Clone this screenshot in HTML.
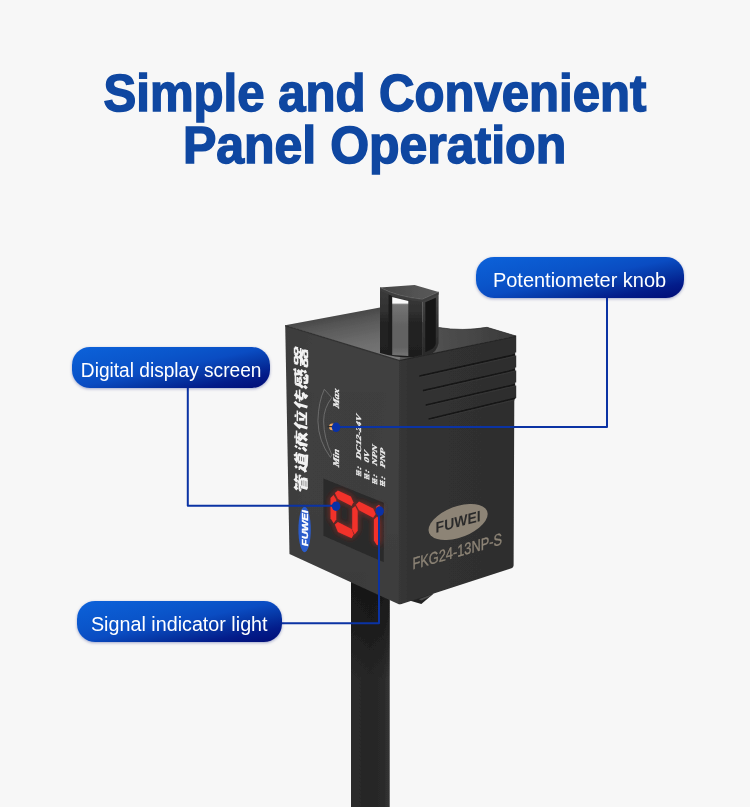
<!DOCTYPE html>
<html><head><meta charset="utf-8">
<style>
html,body{margin:0;padding:0;}
body{width:750px;height:807px;background:#f7f7f7;position:relative;overflow:hidden;font-family:"Liberation Sans",sans-serif;}
.title{position:absolute;left:0;width:750px;text-align:center;color:#0f47a1;font-weight:bold;font-size:51px;line-height:51px;white-space:nowrap;-webkit-text-stroke:1.5px #0f47a1;}
.t1{top:68px;}
.t2{top:120px;}
.title span{display:inline-block;transform-origin:50% 50%;}
.pill{position:absolute;border-radius:18px;color:#fff;font-size:19.5px;box-sizing:border-box;text-align:center;white-space:nowrap;
 background:linear-gradient(to bottom right,#0c62da 0%,#0a55ca 35%,#0a4cc2 50%,#0636a4 66%,#031c8a 82%,#010c75 100%);box-shadow:0 1px 3px rgba(0,20,120,.35);}
.pill span{display:inline-block;transform-origin:50% 50%;}
#p1{left:476px;top:257px;width:208px;height:41px;line-height:47px;}
#p2{left:71.7px;top:347.2px;width:198px;height:41px;line-height:47px;}
#p3{left:76.5px;top:601px;width:205px;height:41px;line-height:47px;}
svg{position:absolute;left:0;top:0;}
</style></head><body>
<div class="title t1"><span id="ts1" style="transform:scaleX(0.9625)">Simple and Convenient</span></div>
<div class="title t2"><span id="ts2" style="transform:scaleX(0.98)">Panel Operation</span></div>
<svg id="dev" width="750" height="807" viewBox="0 0 750 807">
<defs>
<filter id="soft" x="-5%" y="-5%" width="110%" height="110%"><feGaussianBlur stdDeviation="0.45"/></filter>
<filter id="glow" x="-40%" y="-40%" width="180%" height="180%"><feGaussianBlur stdDeviation="3"/></filter>
<filter id="tblur" x="-10%" y="-10%" width="120%" height="120%"><feGaussianBlur stdDeviation="0.35"/></filter>
<linearGradient id="gCable" x1="0" x2="1" y1="0" y2="0">
 <stop offset="0" stop-color="#2b2b2b"/><stop offset="0.5" stop-color="#262626"/><stop offset="0.85" stop-color="#2a2a2a"/><stop offset="1" stop-color="#363636"/>
</linearGradient>
<linearGradient id="gCableSh" x1="0" x2="0" y1="0" y2="1"><stop offset="0" stop-color="#101010" stop-opacity="0.75"/><stop offset="0.45" stop-color="#101010" stop-opacity="0.55"/><stop offset="1" stop-color="#101010" stop-opacity="0"/></linearGradient>
<linearGradient id="gLeft" x1="0" x2="1" y1="0" y2="0.25">
 <stop offset="0" stop-color="#3b3b3b"/><stop offset="0.3" stop-color="#404040"/><stop offset="0.8" stop-color="#3f3f3f"/><stop offset="1" stop-color="#414141"/>
</linearGradient>
<linearGradient id="gLeftV" x1="0" x2="0" y1="0" y2="1">
 <stop offset="0" stop-color="#000" stop-opacity="0"/><stop offset="0.6" stop-color="#000" stop-opacity="0.02"/><stop offset="1" stop-color="#000" stop-opacity="0.07"/>
</linearGradient>
<linearGradient id="gRight" x1="0" x2="1" y1="0" y2="0">
 <stop offset="0" stop-color="#373737"/><stop offset="0.12" stop-color="#313131"/><stop offset="1" stop-color="#2e2e2e"/>
</linearGradient>
<linearGradient id="gTop" x1="285" y1="325" x2="295.2" y2="379" gradientUnits="userSpaceOnUse">
 <stop offset="0" stop-color="#484848"/><stop offset="0.2" stop-color="#585858"/><stop offset="0.55" stop-color="#6c6c6c"/><stop offset="0.85" stop-color="#767676"/><stop offset="1" stop-color="#7a7a7a"/>
</linearGradient>
<linearGradient id="gTopR" x1="420" y1="345" x2="516" y2="334" gradientUnits="userSpaceOnUse">
 <stop offset="0" stop-color="#5a5a5a"/><stop offset="0.25" stop-color="#4e4e4e"/><stop offset="0.6" stop-color="#454545"/><stop offset="1" stop-color="#393939"/>
</linearGradient>
</defs>
<g filter="url(#soft)">
<!-- cable -->
<rect x="351" y="570" width="38.7" height="240" fill="url(#gCable)"/>
<rect x="351" y="570" width="38.7" height="110" fill="url(#gCableSh)"/>
<!-- bottom plug -->
<polygon points="409.5,600.4 421.3,603.9 433.8,593.4 420,594" fill="#242424"/>
<polygon points="419,599.2 432.5,594.0 429.5,596.8 421.5,600.6" fill="#4c4c4c"/>
<!-- top face -->
<path d="M285.2,325.3 L380,307.5 L438.6,327.5 Q463,331.5 487,327.3 L516,336 L399.3,360.3 Z" fill="url(#gTop)"/>
<path d="M399.3,360.3 L405,338 L438.6,327.5 Q463,331.5 487,327.3 L516,336 Z" fill="url(#gTopR)"/>
<!-- tab -->
<g id="tab">
<defs>
<linearGradient id="gTabL" x1="0" x2="0" y1="287" y2="357" gradientUnits="userSpaceOnUse">
 <stop offset="0" stop-color="#3c3c3c"/><stop offset="0.35" stop-color="#303030"/><stop offset="0.5" stop-color="#242424"/><stop offset="1" stop-color="#1e1e1e"/>
</linearGradient>
<linearGradient id="gTabW" x1="0" x2="0" y1="297" y2="356" gradientUnits="userSpaceOnUse">
 <stop offset="0" stop-color="#fafafa"/><stop offset="0.1" stop-color="#fafafa"/><stop offset="0.13" stop-color="#747474"/><stop offset="0.5" stop-color="#626262"/><stop offset="0.85" stop-color="#626262"/><stop offset="1" stop-color="#747474"/>
</linearGradient>
<linearGradient id="gTabTop" x1="380" x2="438" y1="0" y2="0" gradientUnits="userSpaceOnUse">
 <stop offset="0" stop-color="#444"/><stop offset="0.5" stop-color="#505050"/><stop offset="1" stop-color="#5a5a5a"/>
</linearGradient>
<linearGradient id="gTabR" x1="0" x2="0" y1="292" y2="357" gradientUnits="userSpaceOnUse">
 <stop offset="0" stop-color="#484848"/><stop offset="0.5" stop-color="#333"/><stop offset="1" stop-color="#2a2a2a"/>
</linearGradient>
</defs>
<!-- front-left wall -->
<path d="M380,287.5 Q397,296.5 422.2,299.2 L422.2,357 Q400,359 380,353 Z" fill="url(#gTabL)"/>
<!-- window -->
<path d="M391.8,297 L408.3,301 L408.3,356 L391.8,355 Z" fill="url(#gTabW)"/>
<path d="M388.6,294 L392.2,296 L392.2,355 L388.6,354.5 Z" fill="#1b1b1b"/>
<!-- right wall -->
<path d="M422.2,299.2 L438.6,291.9 L438.6,343 Q437,352 429,355 L422.2,357 Z" fill="url(#gTabR)"/>
<path d="M425.3,302.2 L435.8,297.8 L435.8,344 Q434,349.5 425.3,352 Z" fill="#171717"/>
<!-- top -->
<path d="M380,287.5 L414.6,284.9 L438.6,291.9 L422.2,299.2 Q397,296.5 380,287.5 Z" fill="url(#gTabTop)"/>
<path d="M380,287.5 Q397,296.5 422.2,299.2 L438.6,291.9 L438.6,294.6 L422.2,302 Q397,299.5 380,290.5 Z" fill="#3e3e3e"/>
<path d="M380,287.5 Q397,296.5 422.2,299.2 L438.6,291.9" fill="none" stroke="#626262" stroke-width="0.7"/>
</g>
<!-- left face -->
<polygon points="285.2,325.3 399.8,360.3 399.4,604.6 289.5,554" fill="url(#gLeft)"/>
<polygon points="285.2,325.3 399.8,360.3 399.4,604.6 289.5,554" fill="url(#gLeftV)"/>
<!-- right face -->
<path d="M399,360 L516.2,335.5 L516.2,398 L514.3,399 L513.6,565.5 Q513.5,567.6 511.5,568.3 L401.5,603.9 Q399.2,604.6 398.6,603.8 Z" fill="url(#gRight)"/>
<!-- grooves -->
<g stroke="#141414" stroke-width="1.5" stroke-linecap="round" fill="none">
<path d="M420,376 L515.5,354.6"/>
<path d="M423.6,390.6 L515.5,369.6"/>
<path d="M426.4,404.9 L515.5,384.5"/>
<path d="M429.2,418.9 L514.5,398.5"/>
</g>
<g stroke="#3b3b3b" stroke-width="0.8" stroke-linecap="round" fill="none" opacity="0.8">
<path d="M420,377.4 L515.5,356"/>
<path d="M423.6,392 L515.5,371"/>
<path d="M426.4,406.3 L515.5,385.9"/>
<path d="M429.2,420.3 L514.5,399.9"/>
</g>
<!-- notches at right edge -->
<g fill="#f7f7f8">
<rect x="515.2" y="352.5" width="2" height="3"/>
<rect x="515.2" y="367.5" width="2" height="3"/>
<rect x="515.2" y="382.5" width="2" height="3"/>
</g>
<!-- front vertical edge highlight -->

<!-- top edge highlights -->
<path d="M285.2,325.6 L399.5,360.6" stroke="#333" stroke-width="1.2" fill="none"/>
<path d="M399.5,360.6 L516,336.4" stroke="#262626" stroke-width="1" fill="none" opacity="0.9"/>
<path d="M438.6,327.5 Q463,331.5 487,327.3 L516,336" stroke="#2e2e2e" stroke-width="0.8" fill="none" opacity="0.8"/>
<!--GFX-START-->
<g id="cn" filter="url(#tblur)">
<g transform="matrix(0.0000,-0.1950,0.1400,0.0420,294.00,490.40)" fill="none" stroke="#f2f2f2" stroke-linecap="butt" stroke-linejoin="round">
<path d="M18,14 L42,14 M58,14 L90,14 M12,38 L88,38 M30,48 L70,48 M30,64 L72,64 M30,78 L74,78 M30,93 L74,93 M88,38 L84,50" stroke-width="1.55" vector-effect="non-scaling-stroke"/>
<path d="M22,4 L10,24 M30,14 L34,26 M62,4 L50,24 M72,14 L76,26 M50,26 L50,36 M12,38 L12,52 M30,48 L30,96 M70,48 L70,64 M74,64 L74,96" stroke-width="2.9" vector-effect="non-scaling-stroke"/>
</g>
<g transform="matrix(0.0000,-0.1950,0.1400,0.0420,294.00,469.45)" fill="none" stroke="#f2f2f2" stroke-linecap="butt" stroke-linejoin="round">
<path d="M38,18 L94,18 M46,30 L84,30 M46,46 L84,46 M46,62 L84,62 M46,78 L84,78 M6,38 L24,38" stroke-width="1.55" vector-effect="non-scaling-stroke"/>
<path d="M50,4 L56,14 M80,4 L72,14 M64,18 L58,30 M46,30 L46,80 M84,30 L84,80 M12,8 L22,22 M24,38 L14,72 M4,84 L18,74 L40,88 L96,92" stroke-width="2.9" vector-effect="non-scaling-stroke"/>
</g>
<g transform="matrix(0.0000,-0.1950,0.1400,0.0420,294.00,448.50)" fill="none" stroke="#f2f2f2" stroke-linecap="butt" stroke-linejoin="round">
<path d="M28,18 L96,18 M62,36 L86,36" stroke-width="1.55" vector-effect="non-scaling-stroke"/>
<path d="M8,10 L18,20 M4,36 L14,44 M6,88 L20,62 M60,2 L62,12 M44,22 L28,52 M36,42 L36,96 M66,24 L52,52 M86,36 L60,92 M66,52 L74,60 M58,46 L96,94" stroke-width="2.9" vector-effect="non-scaling-stroke"/>
</g>
<g transform="matrix(0.0000,-0.1950,0.1400,0.0420,294.00,427.55)" fill="none" stroke="#f2f2f2" stroke-linecap="butt" stroke-linejoin="round">
<path d="M38,24 L92,24 M32,88 L98,88" stroke-width="1.55" vector-effect="non-scaling-stroke"/>
<path d="M26,4 L6,46 M18,30 L18,96 M62,4 L64,18 M50,36 L58,74 M84,34 L70,86" stroke-width="2.9" vector-effect="non-scaling-stroke"/>
</g>
<g transform="matrix(0.0000,-0.1950,0.1400,0.0420,294.00,406.60)" fill="none" stroke="#f2f2f2" stroke-linecap="butt" stroke-linejoin="round">
<path d="M42,18 L88,18 M34,40 L96,40 M50,62 L84,62" stroke-width="1.55" vector-effect="non-scaling-stroke"/>
<path d="M26,4 L6,46 M18,30 L18,96 M64,4 L50,62 M84,62 L64,84 M58,76 L80,94" stroke-width="2.9" vector-effect="non-scaling-stroke"/>
</g>
<g transform="matrix(0.0000,-0.1950,0.1400,0.0420,294.00,385.65)" fill="none" stroke="#f2f2f2" stroke-linecap="butt" stroke-linejoin="round">
<path d="M12,10 L92,10 M24,24 L50,24 M24,36 L48,36 M24,52 L48,52" stroke-width="1.55" vector-effect="non-scaling-stroke"/>
<path d="M12,10 L12,42 L4,64 M24,36 L24,52 M48,36 L48,52 M60,2 L70,40 L94,62 M86,26 L62,58 M78,2 L88,8 M14,72 L6,92 M30,68 L36,92 L70,94 L72,80 M50,68 L58,80 M82,70 L94,88" stroke-width="2.9" vector-effect="non-scaling-stroke"/>
</g>
<g transform="matrix(0.0000,-0.1950,0.1400,0.0420,294.00,364.70)" fill="none" stroke="#f2f2f2" stroke-linecap="butt" stroke-linejoin="round">
<path d="M12,4 L42,4 M12,26 L42,26 M58,4 L88,4 M58,26 L88,26 M12,72 L42,72 M12,96 L42,96 M58,72 L88,72 M58,96 L88,96 M4,48 L96,48" stroke-width="1.55" vector-effect="non-scaling-stroke"/>
<path d="M12,4 L12,28 M42,4 L42,28 M58,4 L58,28 M88,4 L88,28 M12,72 L12,98 M42,72 L42,98 M58,72 L58,98 M88,72 L88,98 M50,32 L44,52 L14,68 M52,50 L92,68 M68,34 L78,42" stroke-width="2.9" vector-effect="non-scaling-stroke"/>
</g>
</g>
<path d="M324.3,389.3 Q318.4,402 317.9,420.9 Q318.3,441 330.5,457.5 L331.8,454.7 Q323.8,438 323.6,420.9 Q323.8,408 331.8,397.7 Z" fill="none" stroke="#707070" stroke-width="0.9" stroke-linejoin="round"/>
<g filter="url(#tblur)">
<text transform="matrix(0,-0.975,0.820,0.271,338.80,408.80)" font-size="10.5" fill="#f0f0f0" style="font-family:'Liberation Serif',serif;font-weight:bold;font-style:italic" stroke="#f0f0f0" stroke-width="0.3">Max</text>
<text transform="matrix(0,-0.975,0.820,0.271,339.40,467.50)" font-size="10.5" fill="#f0f0f0" style="font-family:'Liberation Serif',serif;font-weight:bold;font-style:italic" stroke="#f0f0f0" stroke-width="0.3">Min</text>
<g transform="matrix(0,-0.0700,0.0560,0.0185,355.70,475.50)" fill="none" stroke="#e8e8e8" stroke-width="1" vector-effect="non-scaling-stroke"><path d="M10,20 L90,20 M10,55 L90,55 M10,92 L90,92 M25,5 L25,95 M70,5 L70,95 M48,30 L48,80" vector-effect="non-scaling-stroke"/></g>
<text transform="matrix(0,-1.000,0.720,0.238,361.30,469.90)" font-size="10" fill="#f0f0f0" style="font-family:'Liberation Serif',serif;font-weight:bold;font-style:italic" stroke="#f0f0f0" stroke-width="0.3">:</text>
<text transform="matrix(0,-1.020,0.720,0.238,361.30,460.00)" font-size="10" fill="#f0f0f0" style="font-family:'Liberation Serif',serif;font-weight:bold;font-style:italic" stroke="#f0f0f0" stroke-width="0.3">DC12-24V</text>
<g transform="matrix(0,-0.0700,0.0560,0.0185,363.80,478.90)" fill="none" stroke="#e8e8e8" stroke-width="1" vector-effect="non-scaling-stroke"><path d="M10,20 L90,20 M10,55 L90,55 M10,92 L90,92 M25,5 L25,95 M70,5 L70,95 M48,30 L48,80" vector-effect="non-scaling-stroke"/></g>
<text transform="matrix(0,-1.000,0.720,0.238,369.40,473.30)" font-size="10" fill="#f0f0f0" style="font-family:'Liberation Serif',serif;font-weight:bold;font-style:italic" stroke="#f0f0f0" stroke-width="0.3">:</text>
<text transform="matrix(0,-1.000,0.720,0.238,369.40,463.00)" font-size="10" fill="#f0f0f0" style="font-family:'Liberation Serif',serif;font-weight:bold;font-style:italic" stroke="#f0f0f0" stroke-width="0.3">0V</text>
<g transform="matrix(0,-0.0700,0.0560,0.0185,371.70,483.60)" fill="none" stroke="#e8e8e8" stroke-width="1" vector-effect="non-scaling-stroke"><path d="M10,20 L90,20 M10,55 L90,55 M10,92 L90,92 M25,5 L25,95 M70,5 L70,95 M48,30 L48,80" vector-effect="non-scaling-stroke"/></g>
<text transform="matrix(0,-1.000,0.720,0.238,377.30,478.00)" font-size="10" fill="#f0f0f0" style="font-family:'Liberation Serif',serif;font-weight:bold;font-style:italic" stroke="#f0f0f0" stroke-width="0.3">:</text>
<text transform="matrix(0,-1.000,0.720,0.238,377.30,466.00)" font-size="10" fill="#f0f0f0" style="font-family:'Liberation Serif',serif;font-weight:bold;font-style:italic" stroke="#f0f0f0" stroke-width="0.3">NPN</text>
<g transform="matrix(0,-0.0700,0.0560,0.0185,379.50,485.70)" fill="none" stroke="#e8e8e8" stroke-width="1" vector-effect="non-scaling-stroke"><path d="M10,20 L90,20 M10,55 L90,55 M10,92 L90,92 M25,5 L25,95 M70,5 L70,95 M48,30 L48,80" vector-effect="non-scaling-stroke"/></g>
<text transform="matrix(0,-1.000,0.720,0.238,385.10,480.10)" font-size="10" fill="#f0f0f0" style="font-family:'Liberation Serif',serif;font-weight:bold;font-style:italic" stroke="#f0f0f0" stroke-width="0.3">:</text>
<text transform="matrix(0,-1.000,0.720,0.238,385.10,468.20)" font-size="10" fill="#f0f0f0" style="font-family:'Liberation Serif',serif;font-weight:bold;font-style:italic" stroke="#f0f0f0" stroke-width="0.3">PNP</text>
</g>
<circle cx="332.4" cy="426.9" r="3.3" fill="#f0a862"/>
<path d="M327.5,426.6 L333,426.6" stroke="#2a2a2a" stroke-width="1.1"/>
<polygon points="323.4,478.4 383.8,502.8 383.8,562.3 323.4,535.7" fill="#2a2a2a"/>
<g filter="url(#glow)" opacity="0.55"><polygon points="330.5,498.0 333.6,495.0 336.3,499.7 336.3,519.6 333.6,523.3 330.5,518.3" fill="#ff2a20"/><polygon points="334.8,492.9 337.9,490.4 350.9,496.6 353.4,502.2 351.6,505.9 337.9,499.1" fill="#ff2a20"/><polygon points="352.2,508.4 355.3,505.9 357.7,510.9 357.7,530.7 354.7,534.4 352.2,529.5" fill="#ff2a20"/><polygon points="334.8,524.5 337.9,522.0 351.6,528.9 353.7,534.4 351.6,538.2 337.9,532.0" fill="#ff2a20"/><polygon points="355.9,504.7 359.0,501.6 373.2,508.4 375.7,514.0 373.2,517.7 359.0,510.3" fill="#ff2a20"/><polygon points="373.9,519.6 377.0,516.5 380.0,519.6 380.0,543.1 377.0,545.6 373.9,540.6" fill="#ff2a20"/><polygon points="376.3,506.5 379.0,504.8 381.5,508.0 381.5,513.0 376.3,513.0" fill="#ff2a20"/></g>
<g><polygon points="330.5,498.0 333.6,495.0 336.3,499.7 336.3,519.6 333.6,523.3 330.5,518.3" fill="#f2302c"/><polygon points="334.8,492.9 337.9,490.4 350.9,496.6 353.4,502.2 351.6,505.9 337.9,499.1" fill="#f2302c"/><polygon points="352.2,508.4 355.3,505.9 357.7,510.9 357.7,530.7 354.7,534.4 352.2,529.5" fill="#f2302c"/><polygon points="334.8,524.5 337.9,522.0 351.6,528.9 353.7,534.4 351.6,538.2 337.9,532.0" fill="#f2302c"/><polygon points="355.9,504.7 359.0,501.6 373.2,508.4 375.7,514.0 373.2,517.7 359.0,510.3" fill="#f2302c"/><polygon points="373.9,519.6 377.0,516.5 380.0,519.6 380.0,543.1 377.0,545.6 373.9,540.6" fill="#f2302c"/><polygon points="376.3,506.5 379.0,504.8 381.5,508.0 381.5,513.0 376.3,513.0" fill="#f2302c"/></g>
<ellipse cx="304.6" cy="529.5" rx="6.2" ry="22.8" fill="#2b5ccb"/>
<text transform="matrix(0,-1.170,0.860,0.000,308.00,546.20)" font-size="9.6" fill="#ffffff" style="font-family:'Liberation Sans',sans-serif;font-weight:bold;font-style:italic" stroke="#fff" stroke-width="0.35">FUWEI</text>
<g transform="matrix(1,-0.27,0,1,458.1,522)"><ellipse cx="0" cy="0" rx="29.6" ry="16.2" fill="#8d8476"/><text x="0" y="5" text-anchor="middle" font-size="15.2" textLength="45" lengthAdjust="spacingAndGlyphs" fill="#2b2b2b" style="font-family:'Liberation Sans',sans-serif;font-weight:bold">FUWEI</text></g>
<g transform="matrix(1,-0.281,0,1,412.4,569.6)"><text x="0" y="0" font-size="16.6" textLength="89.6" lengthAdjust="spacingAndGlyphs" fill="#8d8476" stroke="#8d8476" stroke-width="0.35" style="font-family:'Liberation Sans',sans-serif">FKG24-13NP-S</text></g>
<!--GFX-END-->
</g>
<!--CALL-START-->
<g fill="none" stroke="#0b33a4" stroke-width="2" stroke-linejoin="round">
<path d="M607,297 L607,427 L336,427"/>
<path d="M187.8,387 L187.8,505.7 L336,505.7"/>
<path d="M281,623.3 L379,623.3 L379,511"/>
</g>
<g fill="#0a31a6">
<ellipse cx="336.1" cy="427.3" rx="4.25" ry="4.75"/>
<ellipse cx="336.1" cy="506.2" rx="4.25" ry="4.8"/>
<ellipse cx="379.7" cy="511.1" rx="4.25" ry="4.8"/>
</g>
<!--CALL-END-->
</svg>
<div class="pill" id="p1"><span style="transform:scaleX(1.025)">Potentiometer knob</span></div>
<div class="pill" id="p2"><span style="transform:scaleX(0.98)">Digital display screen</span></div>
<div class="pill" id="p3"><span style="transform:scaleX(1.012)">Signal indicator light</span></div>
</body></html>
